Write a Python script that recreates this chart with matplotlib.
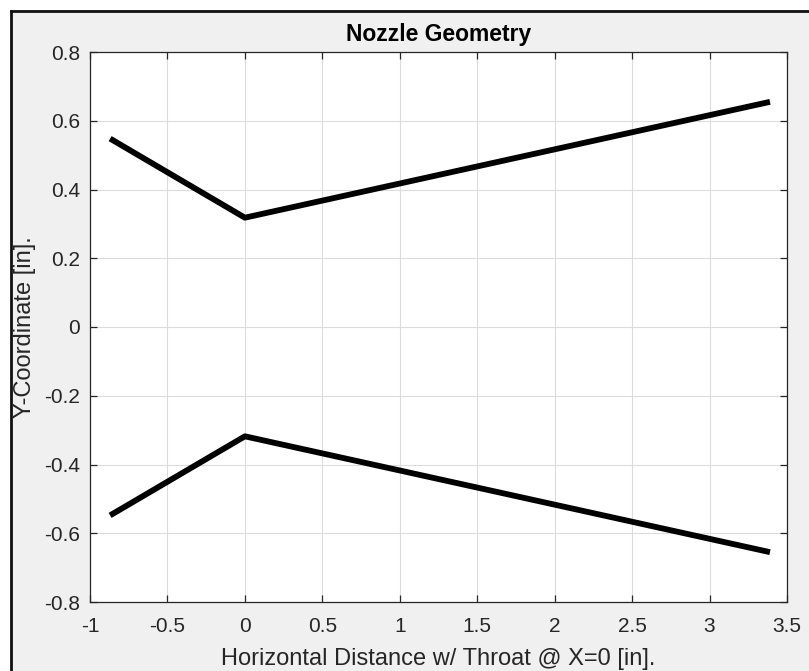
import matplotlib
matplotlib.use('Agg')
import matplotlib.pyplot as plt
from matplotlib.patches import Rectangle
from matplotlib.lines import Line2D

plt.rcParams['font.family'] = ['Liberation Sans', 'DejaVu Sans']

# Nozzle contour (upper wall); lower wall is the mirror image
x_wall = [-0.87, 0.0, 3.39]
y_upper = [0.548, 0.318, 0.655]
y_lower = [-v for v in y_upper]

xticks = [-1, -0.5, 0, 0.5, 1, 1.5, 2, 2.5, 3, 3.5]
yticks = [-0.8, -0.6, -0.4, -0.2, 0, 0.2, 0.4, 0.6, 0.8]

W, H = 809, 671
fig = plt.figure(figsize=(W / 100, H / 100), dpi=100, facecolor='white')

# MATLAB-like gray figure panel with a dark frame on left/top
fig.patches.append(Rectangle((11 / W, 0), 1 - 11 / W, 1 - 11 / H,
                             transform=fig.transFigure, facecolor='#f0f0f0',
                             edgecolor='none', zorder=-10))
fig.lines.append(Line2D([11 / W, 11 / W], [0, 1 - 11 / H], transform=fig.transFigure,
                        color='#111111', lw=2.0, zorder=-5))
fig.lines.append(Line2D([11 / W, 1], [1 - 11 / H, 1 - 11 / H], transform=fig.transFigure,
                        color='#111111', lw=2.0, zorder=-5))

ax = fig.add_axes([90 / W, 1 - 602 / H, (787 - 90) / W, (602 - 52) / H])
ax.set_facecolor('white')

ax.plot(x_wall, y_upper, color='black', lw=4.2, solid_capstyle='butt')
ax.plot(x_wall, y_lower, color='black', lw=4.2, solid_capstyle='butt')

ax.set_xlim(-1, 3.5)
ax.set_ylim(-0.8, 0.8)
ax.set_xticks(xticks)
ax.set_yticks(yticks)
ax.set_xticklabels([('%g' % v) for v in xticks])
ax.set_yticklabels([('%g' % v) for v in yticks])
ax.grid(True, color='#dcdcdc', lw=0.8)
ax.set_axisbelow(True)
ax.tick_params(direction='in', top=True, right=True, labelsize=15,
               colors='#262626', length=5, width=0.9)
ax.tick_params(axis='x', pad=11)
ax.tick_params(axis='y', pad=7)
for s in ax.spines.values():
    s.set_color('#262626')
    s.set_linewidth(0.9)

ax.set_title('Nozzle Geometry', fontsize=16.5, fontweight='bold', pad=8)
ax.set_xlabel('Horizontal Distance w/ Throat @ X=0 [in].', fontsize=17,
              color='#262626')
ax.set_ylabel('Y-Coordinate [in].', fontsize=17, color='#262626')
ax.xaxis.set_label_coords((438 - 90) / 697, -(659 - 602) / 550)
ax.yaxis.set_label_coords(-(90 - 25) / 697, 0.5)
ax.xaxis.label.set_va('center')
ax.yaxis.label.set_va('center')

plt.savefig('out.png', dpi=100, facecolor=fig.get_facecolor())
